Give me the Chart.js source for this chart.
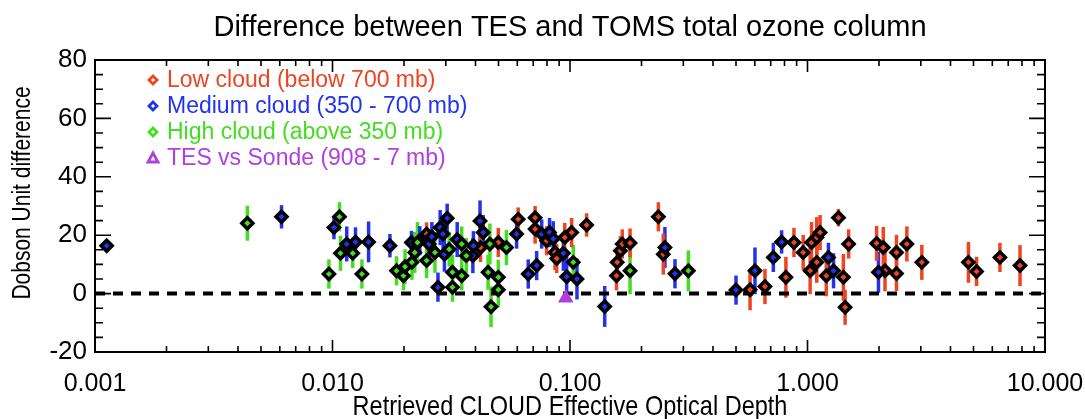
<!DOCTYPE html>
<html>
<head>
<meta charset="utf-8">
<script src="https://cdn.jsdelivr.net/npm/chart.js@4.4.1/dist/chart.umd.min.js"></script>
<style>
  body { margin: 0; background: #fff; }
</style>
</head>
<body>
<canvas id="grafico" width="1085" height="419"></canvas>
<script>
// Textos del grafico
const titulo = "Difference between TES and TOMS total ozone column";
const tituloX = "Retrieved CLOUD Effective Optical Depth";
const tituloY = "Dobson Unit difference";
const nombres = ["Low cloud (below 700 mb)", "Medium cloud (350 - 700 mb)", "High cloud (above 350 mb)", "TES vs Sonde (908 - 7 mb)"];

// Nube baja (rojo)
const bajaX = [0.0249, 0.0499, 0.0605, 0.0713, 0.0713, 0.0797, 0.0865, 0.0879, 0.095, 0.1016, 0.1175, 0.042,
  0.157, 0.158, 0.163, 0.166, 0.179, 0.2356, 0.247, 0.573, 0.662, 0.811, 0.877, 0.959, 1.026, 1.04, 1.094,
  1.13, 1.094, 1.2, 1.35, 1.416, 1.44, 1.49, 1.955, 2.085, 2.12, 2.37, 2.37, 2.62, 3.03, 4.76, 5.15, 6.46, 7.85];
const bajaY = [20.4, 17.5, 25.5, 26.0, 22.1, 18.1, 14.1, 12.0, 19.2, 20.9, 23.5, 15.8,
  6.1, 10.7, 14.7, 17.0, 17.3, 26.3, 13.5, 1.3, 2.4, 5.6, 17.5, 14.1, 7.8, 17.5, 19.2,
  20.9, 10.7, 6.1, 26.0, 5.6, -4.7, 17.0, 17.2, 15.8, 7.8, 14.1, 6.9, 17.0, 10.7, 10.7, 7.6, 12.4, 9.6];
const bajaErr = [4, 5, 4, 4, 5, 5, 6, 5, 5, 5, 4, 5,
  5, 5, 5, 5, 5, 5, 7, 7, 6, 7, 5, 6, 8, 7, 7,
  6, 7, 7, 3, 8, 6, 5, 6, 7, 7, 6, 6, 6, 6, 7, 5, 5, 7];

// Nube media (azul)
const mediaX = [0.00112, 0.0061, 0.01014, 0.01148, 0.0125, 0.01419, 0.01745, 0.0215, 0.0233, 0.0255, 0.0262,
  0.0278, 0.0284, 0.0292, 0.0296, 0.0304, 0.0335, 0.039, 0.0392, 0.0418, 0.0431, 0.0596, 0.0667, 0.0724,
  0.076, 0.082, 0.085, 0.0938, 0.0968, 0.107, 0.14, 0.251, 0.2767, 0.50, 0.601, 0.718, 0.778, 1.225, 1.287, 1.99];
const mediaY = [16.4, 26.3, 22.6, 17.0, 17.7, 17.7, 16.4, 17.5, 18.1, 17.0, 19.5,
  2.2, 22.6, 20.4, 13.5, 25.8, 18.5, 13.0, 16.4, 24.9, 20.9, 20.4, 6.7, 9.6,
  20.4, 20.9, 18.8, 13.8, 5.8, 5.0, -4.4, 15.8, 6.8, 1.2, 7.8, 12.4, 17.7, 12.4, 7.8, 7.3];
const mediaErr = [2, 4, 4, 6, 5, 7, 4, 4, 5, 5, 5,
  5, 6, 5, 6, 5, 6, 6, 5, 7, 6, 5, 5, 5,
  5, 5, 6, 6, 7, 7, 7, 7, 5, 5, 8, 5, 4, 5, 6, 7];

// Nube alta (verde)
const altaX = [0.00438, 0.00966, 0.0107, 0.0108, 0.01217, 0.0133, 0.0186, 0.0199, 0.0202, 0.0216, 0.0222,
  0.0228, 0.0249, 0.027, 0.031, 0.032, 0.032, 0.035, 0.035, 0.0366, 0.0452, 0.046, 0.0465, 0.0499, 0.0499,
  0.054, 0.1032, 0.179, 0.315];
const altaY = [24.1, 6.7, 26.3, 13.8, 13.8, 6.7, 7.8, 6.1, 9.2, 10.7, 14.1,
  17.5, 11.3, 14.1, 15.2, 7.3, 2.2, 17.0, 6.1, 13.0, 7.3, 17.0, -4.5, 5.6, 1.3,
  15.8, 10.7, 7.8, 7.8];
const altaErr = [6, 5, 5, 6, 5, 5, 5, 5, 6, 6, 7,
  7, 6, 7, 6, 6, 5, 6, 5, 6, 6, 7, 7, 6, 6,
  6, 6, 8, 7];

// TES vs sonda (morado)
const sondaX = [0.096];
const sondaY = [-1.5];

// Linea de referencia en cero
const ceroX = [0.001, 10];
const ceroY = [0, 0];

const colores = ["#ee4422", "#2233ee", "#44dd22", "#b040dd"];
const FUENTE = "'Liberation Sans', Arial, sans-serif";

function puntos(xs, ys) {
  return xs.map((v, i) => ({x: v, y: ys[i]}));
}

function esDecada(v) {
  const l = Math.log10(v);
  return Math.abs(l - Math.round(l)) < 1e-6;
}

// Texto algo estrecho, como la fuente de IDL
function textoEstrecho(ctx, texto, x, y, giro) {
  ctx.save();
  ctx.translate(x, y);
  if (giro) ctx.rotate(-Math.PI / 2);
  ctx.scale(0.84, 1);
  ctx.fillText(texto, 0, 0);
  ctx.restore();
}

// Dibuja las barras de error detras de los diamantes
const barrasError = {
  id: 'barrasError',
  beforeDatasetsDraw(chart) {
    const {ctx, scales: {x, y}} = chart;
    chart.data.datasets.forEach(ds => {
      if (!ds.errores) return;
      ctx.save();
      ctx.strokeStyle = ds.colorBarra;
      ctx.lineWidth = 3.5;
      ds.data.forEach((p, j) => {
        const px = x.getPixelForValue(p.x);
        ctx.beginPath();
        ctx.moveTo(px, y.getPixelForValue(p.y - ds.errores[j]));
        ctx.lineTo(px, y.getPixelForValue(p.y + ds.errores[j]));
        ctx.stroke();
      });
      ctx.restore();
    });
  }
};

// Marco, marcas hacia dentro (estilo IDL), titulos
const marco = {
  id: 'marco',
  afterDraw(chart) {
    const {ctx, chartArea: a, scales: {x, y}} = chart;
    ctx.save();
    ctx.strokeStyle = '#000';
    ctx.lineWidth = 2;
    ctx.strokeRect(a.left, a.top, a.right - a.left, a.bottom - a.top);
    ctx.lineWidth = 1.6;
    x.ticks.forEach(t => {
      const px = x.getPixelForValue(t.value);
      const len = esDecada(t.value) ? 12 : 6;
      ctx.beginPath();
      ctx.moveTo(px, a.bottom); ctx.lineTo(px, a.bottom - len);
      ctx.moveTo(px, a.top); ctx.lineTo(px, a.top + len);
      ctx.stroke();
    });
    y.ticks.forEach(t => {
      const py = y.getPixelForValue(t.value);
      const len = t.value % 20 === 0 ? 16 : 8;
      ctx.beginPath();
      ctx.moveTo(a.left, py); ctx.lineTo(a.left + len, py);
      ctx.moveTo(a.right, py); ctx.lineTo(a.right - len, py);
      ctx.stroke();
    });
    ctx.fillStyle = '#000';
    ctx.textAlign = 'center';
    ctx.textBaseline = 'middle';
    ctx.font = "29px " + FUENTE;
    ctx.fillText(titulo, (a.left + a.right) / 2, 28);
    ctx.font = "28px " + FUENTE;
    textoEstrecho(ctx, tituloX, (a.left + a.right) / 2, 407, false);
    ctx.font = "25px " + FUENTE;
    textoEstrecho(ctx, tituloY, 23, 193, true);
    ctx.restore();
  }
};

// Leyenda dentro del area del grafico
const leyenda = {
  id: 'leyenda',
  afterDraw(chart) {
    const {ctx, chartArea: a} = chart;
    ctx.save();
    ctx.font = "23px " + FUENTE;
    ctx.textBaseline = 'middle';
    nombres.forEach((nombre, i) => {
      const cy = a.top + 20 + i * 26;
      const cx = a.left + 58;
      ctx.strokeStyle = colores[i];
      ctx.lineWidth = 2.8;
      ctx.beginPath();
      if (i < 3) {
        ctx.moveTo(cx, cy - 4); ctx.lineTo(cx + 4, cy); ctx.lineTo(cx, cy + 4); ctx.lineTo(cx - 4, cy);
      } else {
        ctx.moveTo(cx, cy - 5); ctx.lineTo(cx + 5, cy + 4); ctx.lineTo(cx - 5, cy + 4);
      }
      ctx.closePath();
      ctx.stroke();
      ctx.fillStyle = colores[i];
      ctx.fillText(nombre, cx + 14, cy + 1);
    });
    ctx.restore();
  }
};

function serie(nombre, xs, ys, errs, color) {
  return {
    type: 'scatter',
    label: nombre,
    data: puntos(xs, ys),
    errores: errs,
    colorBarra: color,
    pointStyle: 'rectRot',
    pointRadius: 5.5,
    borderWidth: 3.5,
    borderColor: '#000',
    backgroundColor: color,
    order: 2
  };
}

new Chart(document.getElementById('grafico'), {
  data: {
    datasets: [
      {
        type: 'line',
        label: 'cero',
        data: puntos(ceroX, ceroY),
        borderColor: '#000',
        borderWidth: 4,
        borderDash: [10, 8],
        pointRadius: 0,
        order: 10
      },
      serie(nombres[2], altaX, altaY, altaErr, colores[2]),
      serie(nombres[1], mediaX, mediaY, mediaErr, colores[1]),
      serie(nombres[0], bajaX, bajaY, bajaErr, colores[0]),
      {
        type: 'scatter',
        label: nombres[3],
        data: puntos(sondaX, sondaY),
        pointStyle: 'triangle',
        pointRadius: 7,
        borderWidth: 2,
        borderColor: colores[3],
        backgroundColor: colores[3],
        order: 1
      }
    ]
  },
  options: {
    responsive: false,
    animation: false,
    events: [],
    layout: { padding: { left: 0, right: 40, top: 60, bottom: 0 } },
    plugins: {
      legend: { display: false },
      tooltip: { enabled: false },
      title: { display: false }
    },
    scales: {
      x: {
        type: 'logarithmic',
        min: 0.001,
        max: 10,
        grid: { display: false, drawTicks: false },
        border: { display: false },
        afterBuildTicks: s => { s.ticks = s.ticks.filter(t => {
          const m = t.value / Math.pow(10, Math.floor(Math.log10(t.value) + 1e-9));
          return Math.abs(m - Math.round(m)) < 1e-6;
        }); },
        afterFit: s => { s.height = 67; s.paddingLeft = 0; s.paddingRight = 0; },
        ticks: {
          autoSkip: false,
          maxRotation: 0,
          padding: 17,
          color: '#000',
          font: { family: FUENTE, size: 25 },
          callback: v => esDecada(v) ? v.toFixed(3) : ''
        }
      },
      y: {
        min: -20,
        max: 80,
        grid: { display: false, drawTicks: false },
        border: { display: false },
        afterFit: s => { s.width = 95; },
        ticks: {
          stepSize: 5,
          autoSkip: false,
          padding: 8,
          color: '#000',
          font: { family: FUENTE, size: 26 },
          callback: v => v % 20 === 0 ? v : ''
        }
      }
    }
  },
  plugins: [barrasError, marco, leyenda]
});
</script>
</body>
</html>
